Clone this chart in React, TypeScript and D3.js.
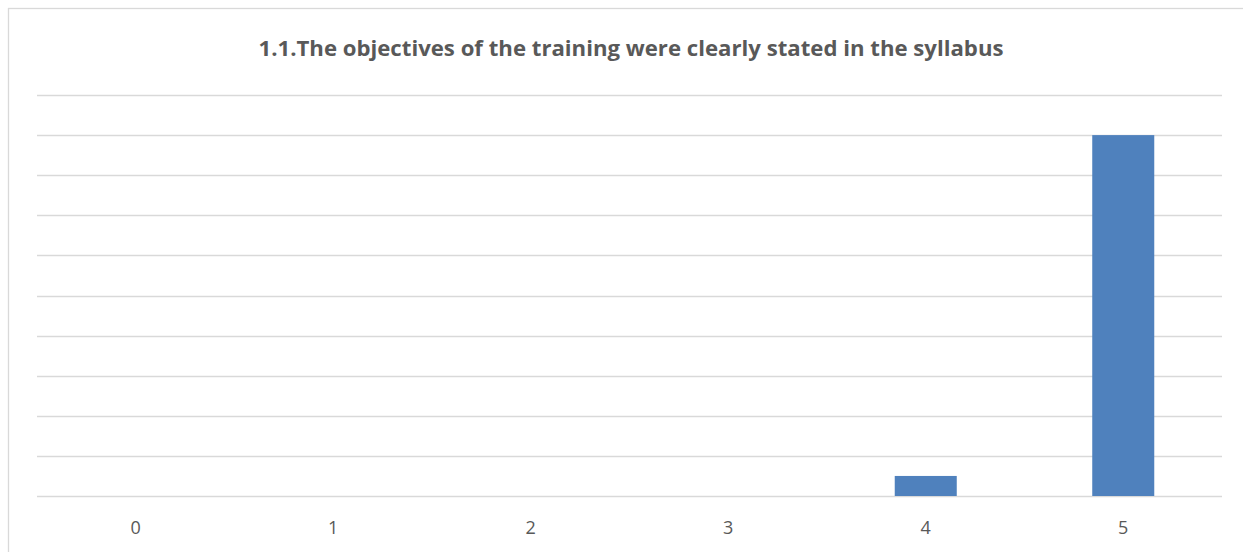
import React, { useRef, useEffect } from "react";
import * as d3 from "d3";

const title = "1.1.The objectives of the training were clearly stated in the syllabus";
const categories = ["0", "1", "2", "3", "4", "5"];
const counts = [0, 0, 0, 0, 1, 18];
const yTicks = [0, 2, 4, 6, 8, 10, 12, 14, 16, 18, 20];

const width = 1243;
const height = 552;

const BarChart: React.FC = () => {
  const svgRef = useRef<SVGSVGElement | null>(null);

  useEffect(() => {
    if (!svgRef.current) return;
    const svg = d3.select(svgRef.current);
    svg.selectAll("*").remove();

    const margin = { top: 95, right: 21, bottom: 56, left: 37 };
    const innerWidth = width - margin.left - margin.right;
    const innerHeight = height - margin.top - margin.bottom;

    // chart frame (runs off the right and bottom edges)
    svg
      .append("rect")
      .attr("x", 8.5)
      .attr("y", 8.5)
      .attr("width", 1300)
      .attr("height", 600)
      .attr("fill", "white")
      .attr("stroke", "#d9d9d9")
      .attr("stroke-width", 1.3);

    svg
      .append("text")
      .attr("x", 631)
      .attr("y", 56)
      .attr("text-anchor", "middle")
      .attr("fill", "#595959")
      .attr("font-family", "'Open Sans', sans-serif")
      .attr("font-weight", "bold")
      .attr("font-size", "21px")
      .attr("textLength", 745)
      .attr("lengthAdjust", "spacingAndGlyphs")
      .text(title);

    const xScale = d3
      .scaleBand<string>()
      .domain(categories)
      .range([0, innerWidth])
      .paddingInner(0.686)
      .paddingOuter(0.343);

    const yScale = d3
      .scaleLinear()
      .domain([0, d3.max(yTicks) as number])
      .range([innerHeight, 0]);

    const g = svg
      .append("g")
      .attr("transform", `translate(${margin.left},${margin.top})`);

    // gridlines
    g.append("g")
      .selectAll("line")
      .data(yTicks)
      .enter()
      .append("line")
      .attr("x1", 0)
      .attr("x2", innerWidth)
      .attr("y1", (d) => Math.round(yScale(d)) + 0.5)
      .attr("y2", (d) => Math.round(yScale(d)) + 0.5)
      .attr("stroke", "#d9d9d9")
      .attr("stroke-width", 1.3);

    // bars
    g.append("g")
      .selectAll("rect")
      .data(counts)
      .enter()
      .append("rect")
      .attr("x", (_, i) => xScale(categories[i]) as number)
      .attr("y", (d) => yScale(d))
      .attr("width", xScale.bandwidth())
      .attr("height", (d) => innerHeight - yScale(d))
      .attr("fill", "#4f81bd");

    // x axis labels
    const xAxis = g
      .append("g")
      .attr("transform", `translate(0,${innerHeight})`)
      .call(d3.axisBottom(xScale).tickSize(0).tickPadding(25));
    xAxis.select(".domain").remove();
    xAxis
      .selectAll("text")
      .attr("fill", "#595959")
      .attr("font-family", "'Open Sans', sans-serif")
      .attr("font-size", "18px");
  }, []);

  return (
    <svg
      ref={svgRef}
      width={width}
      height={height}
      style={{ position: "absolute", left: 0, top: 0, background: "white" }}
    ></svg>
  );
};

export default function App() {
  return <BarChart />;
}
